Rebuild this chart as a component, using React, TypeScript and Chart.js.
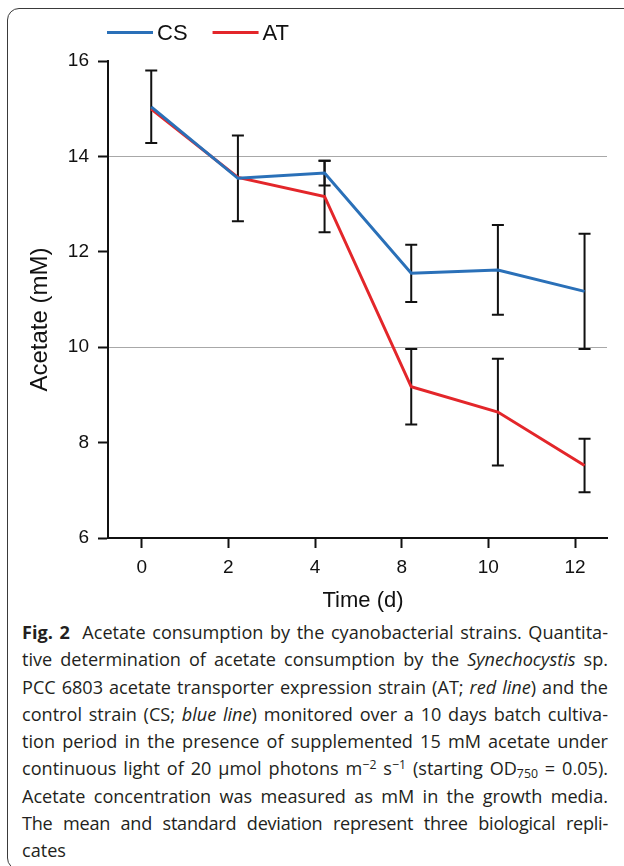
import React, { useEffect, useRef } from 'react';
import { Chart, registerables } from 'chart.js';

Chart.register(...registerables);

// ---- data ----
const TIME_LABELS = ['0', '2', '4', '8', '10', '12'];
const SERIES_NAMES = ['CS', 'AT'];
const CS_MEAN = [15.04, 13.54, 13.65, 11.55, 11.62, 11.17];
const CS_SD = [0.76, 0.9, 0.26, 0.6, 0.94, 1.21];
const AT_MEAN = [14.99, 13.56, 13.16, 9.17, 8.64, 7.52];
const AT_SD: (number | null)[] = [null, null, 0.75, 0.79, 1.12, 0.56];
const Y_MIN = 6;
const Y_MAX = 16;
const Y_STEP = 2;
const GRID_VALUES = [10, 14];
const X_TITLE = 'Time (d)';
const Y_TITLE = 'Acetate (mM)';

// ---- style ----
const FONT = '"Liberation Sans", Arial, Helvetica, sans-serif';
const INK = '#111111';
const BLUE = '#2a70b8';
const RED = '#e3262a';
const POINT_SHIFT = 0.11; // markers sit slightly right of their tick
const X_MIN = -0.389;
const X_MAX = 5.369;

const errorBarPlugin = {
  id: 'errorBars',
  beforeDatasetsDraw(chart: any) {
    const ctx = chart.ctx;
    const xs = chart.scales.x;
    const ys = chart.scales.y;
    ctx.save();
    ctx.strokeStyle = INK;
    ctx.lineWidth = 2;
    chart.data.datasets.forEach((ds: any) => {
      ds.data.forEach((pt: any, j: number) => {
        const sd = ds.errors[j];
        if (sd == null) return;
        const x = xs.getPixelForValue(pt.x);
        const yt = ys.getPixelForValue(pt.y + sd);
        const yb = ys.getPixelForValue(pt.y - sd);
        ctx.beginPath();
        ctx.moveTo(x, yt);
        ctx.lineTo(x, yb);
        ctx.moveTo(x - 6, yt);
        ctx.lineTo(x + 6, yt);
        ctx.moveTo(x - 6, yb);
        ctx.lineTo(x + 6, yb);
        ctx.stroke();
      });
    });
    ctx.restore();
  },
};

const lineLegendPlugin = {
  id: 'lineLegend',
  afterDraw(chart: any) {
    const ctx = chart.ctx;
    let x = 107;
    const yLine = 32.5;
    const yText = 34;
    ctx.save();
    ctx.font = `22px ${FONT}`;
    ctx.textBaseline = 'middle';
    ctx.textAlign = 'left';
    chart.data.datasets.forEach((ds: any) => {
      ctx.strokeStyle = ds.borderColor;
      ctx.lineWidth = 3;
      ctx.beginPath();
      ctx.moveTo(x, yLine);
      ctx.lineTo(x + 46, yLine);
      ctx.stroke();
      x += 46 + 4;
      ctx.fillStyle = INK;
      ctx.fillText(ds.label, x, yText);
      x += ctx.measureText(ds.label).width + 25;
    });
    ctx.restore();
  },
};

const axisTitlePlugin = {
  id: 'axisTitles',
  afterDraw(chart: any) {
    const { ctx, chartArea } = chart;
    ctx.save();
    ctx.fillStyle = INK;
    ctx.textAlign = 'center';
    ctx.textBaseline = 'alphabetic';
    ctx.font = `22px ${FONT}`;
    ctx.fillText(X_TITLE, (chartArea.left + chartArea.right) / 2 + 5.5, chartArea.bottom + 69);
    ctx.translate(46.5, (chartArea.top + chartArea.bottom) / 2 + 20);
    ctx.rotate(-Math.PI / 2);
    ctx.font = `24px ${FONT}`;
    ctx.fillText(Y_TITLE, 0, 0);
    ctx.restore();
  },
};

const capStyle: React.CSSProperties = {
  whiteSpace: 'nowrap',
  textAlign: 'justify',
  textAlignLast: 'justify' as any,
  height: 27.3,
  lineHeight: '27.3px',
};

export default function App() {
  const ref = useRef<HTMLCanvasElement>(null);

  useEffect(() => {
    const toPts = (arr: number[]) => arr.map((y, i) => ({ x: i + POINT_SHIFT, y }));
    const chart = new Chart(ref.current as HTMLCanvasElement, {
      type: 'line',
      data: {
        datasets: [
          {
            label: SERIES_NAMES[0],
            data: toPts(CS_MEAN),
            errors: CS_SD,
            borderColor: BLUE,
            backgroundColor: BLUE,
            borderWidth: 3,
            pointRadius: 0,
            tension: 0,
          } as any,
          {
            label: SERIES_NAMES[1],
            data: toPts(AT_MEAN),
            errors: AT_SD,
            borderColor: RED,
            backgroundColor: RED,
            borderWidth: 3,
            pointRadius: 0,
            tension: 0,
          } as any,
        ],
      },
      options: {
        responsive: false,
        animation: false,
        layout: { padding: { top: 61, right: 17, left: 0, bottom: 0 } },
        plugins: {
          legend: { display: false },
          tooltip: { enabled: false },
        },
        scales: {
          x: {
            type: 'linear',
            min: X_MIN,
            max: X_MAX,
            afterBuildTicks: (s: any) => {
              s.ticks = TIME_LABELS.map((_, i) => ({ value: i }));
            },
            afterFit: (s: any) => {
              s.height = 80;
            },
            ticks: {
              callback: (v: any) => TIME_LABELS[Number(v)] ?? '',
              font: { family: FONT, size: 19 },
              color: INK,
              padding: 8,
              maxRotation: 0,
              autoSkip: false,
            },
            grid: {
              drawOnChartArea: false,
              tickLength: 10,
              tickColor: INK,
              tickWidth: 2,
            },
            border: { display: true, color: INK, width: 2 },
            title: { display: false },
          },
          y: {
            type: 'linear',
            min: Y_MIN,
            max: Y_MAX,
            afterFit: (s: any) => {
              s.width = 108;
            },
            ticks: {
              stepSize: Y_STEP,
              font: { family: FONT, size: 19 },
              color: INK,
              padding: 9,
            },
            grid: {
              color: (c: any) =>
                c.tick && GRID_VALUES.includes(c.tick.value) ? '#a8a8a8' : 'rgba(0,0,0,0)',
              lineWidth: 1,
              tickLength: 10,
              tickColor: INK,
              tickWidth: 2,
            },
            border: { display: true, color: INK, width: 2 },
            title: { display: false },
          },
        },
      } as any,
      plugins: [errorBarPlugin, lineLegendPlugin, axisTitlePlugin],
    });
    return () => chart.destroy();
  }, []);

  const supStyle: React.CSSProperties = { fontSize: '0.68em', lineHeight: 0, verticalAlign: '0.5em' };
  const subStyle: React.CSSProperties = { fontSize: '0.68em', lineHeight: 0, verticalAlign: '-0.25em' };

  return (
    <div
      style={{
        position: 'fixed',
        left: 0,
        top: 0,
        width: 624,
        height: 866,
        overflow: 'hidden',
        background: '#ffffff',
      }}
    >
      <div
        style={{
          position: 'absolute',
          left: 7,
          top: 8,
          width: 660,
          height: 862,
          border: '1.5px solid #3a3a3a',
          borderRadius: 12,
          boxSizing: 'border-box',
        }}
      />
      <canvas
        ref={ref}
        width={624}
        height={618}
        style={{ position: 'absolute', left: 0, top: 0, width: 624, height: 618 }}
      />
      <div
        style={{
          position: 'absolute',
          left: 22,
          top: 619,
          width: 586,
          fontFamily: '"Open Sans", "Noto Sans", sans-serif',
          fontSize: 18.1,
          color: '#231f20',
        }}
      >
        <div style={capStyle}>
          <b style={{ marginRight: 6 }}>Fig. 2</b> Acetate consumption by the cyanobacterial strains. Quantita-
        </div>
        <div style={capStyle}>
          tive determination of acetate consumption by the <i>Synechocystis</i> sp.
        </div>
        <div style={capStyle}>
          PCC 6803 acetate transporter expression strain (AT; <i>red line</i>) and the
        </div>
        <div style={capStyle}>
          control strain (CS; <i>blue line</i>) monitored over a 10 days batch cultiva-
        </div>
        <div style={capStyle}>tion period in the presence of supplemented 15 mM acetate under</div>
        <div style={capStyle}>
          continuous light of 20 µmol photons m<span style={supStyle}>−2</span> s
          <span style={supStyle}>−1</span> (starting OD<span style={subStyle}>750</span> = 0.05).
        </div>
        <div style={capStyle}>Acetate concentration was measured as mM in the growth media.</div>
        <div style={{ ...capStyle, letterSpacing: -0.25 }}>
          The mean and standard deviation represent three biological repli&#8209;
        </div>
        <div style={{ ...capStyle, textAlignLast: 'left' as any }}>cates</div>
      </div>
    </div>
  );
}
